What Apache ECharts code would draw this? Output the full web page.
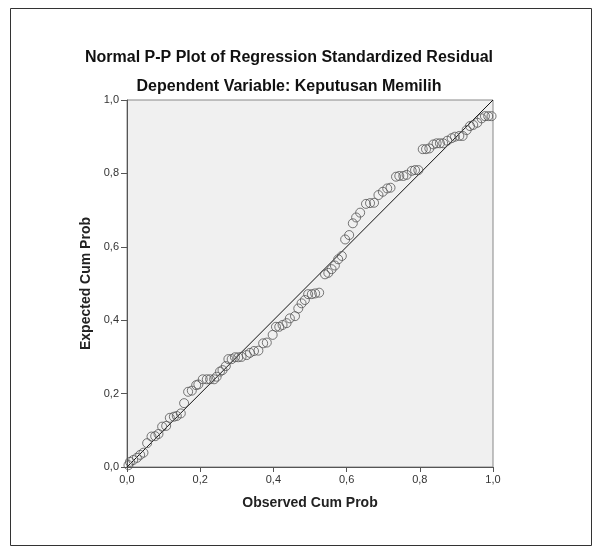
<!DOCTYPE html>
<html>
<head>
<meta charset="utf-8">
<title>Normal P-P Plot</title>
<script src="https://cdn.jsdelivr.net/npm/echarts@6/dist/echarts.min.js"></script>
<style>
    html, body { margin: 0; padding: 0; background: #fff; }
    #main { width: 599px; height: 551px; }
</style>
</head>
<body>
<div id="main"></div>
<script>
// observed / expected cumulative probabilities
var observed = [
    0.004, 0.008, 0.017, 0.027, 0.036, 0.045, 0.055, 0.067, 0.077, 0.086,
    0.096, 0.107, 0.117, 0.128, 0.136, 0.147, 0.156, 0.167, 0.177, 0.189,
    0.195, 0.207, 0.218, 0.227, 0.238, 0.245, 0.254, 0.261, 0.270, 0.277,
    0.286, 0.295, 0.304, 0.313, 0.327, 0.336, 0.347, 0.359, 0.372, 0.382,
    0.398, 0.407, 0.416, 0.425, 0.436, 0.445, 0.459, 0.468, 0.477, 0.486,
    0.495, 0.505, 0.514, 0.525, 0.541, 0.550, 0.559, 0.568, 0.577, 0.587,
    0.596, 0.607, 0.617, 0.626, 0.637, 0.653, 0.664, 0.675, 0.687, 0.699,
    0.711, 0.720, 0.735, 0.744, 0.755, 0.764, 0.778, 0.787, 0.796, 0.808,
    0.817, 0.826, 0.837, 0.846, 0.855, 0.864, 0.875, 0.887, 0.896, 0.908,
    0.917, 0.928, 0.937, 0.946, 0.957, 0.969, 0.978, 0.987, 0.996
];
var expected = [
    0.005, 0.014, 0.019, 0.025, 0.033, 0.039, 0.065, 0.083, 0.084, 0.090,
    0.110, 0.112, 0.134, 0.137, 0.139, 0.146, 0.174, 0.205, 0.208, 0.223,
    0.225, 0.239, 0.239, 0.239, 0.239, 0.246, 0.260, 0.264, 0.275, 0.294,
    0.294, 0.299, 0.299, 0.300, 0.305, 0.311, 0.316, 0.317, 0.337, 0.339,
    0.360, 0.382, 0.382, 0.387, 0.392, 0.405, 0.411, 0.432, 0.446, 0.455,
    0.471, 0.471, 0.473, 0.475, 0.525, 0.529, 0.539, 0.549, 0.566, 0.575,
    0.620, 0.632, 0.664, 0.680, 0.693, 0.717, 0.719, 0.720, 0.741, 0.750,
    0.759, 0.761, 0.791, 0.793, 0.793, 0.796, 0.807, 0.809, 0.809, 0.866,
    0.866, 0.868, 0.879, 0.882, 0.882, 0.882, 0.889, 0.896, 0.900, 0.902,
    0.902, 0.918, 0.929, 0.932, 0.938, 0.950, 0.956, 0.956, 0.956
];
var refLine = [[0, 0], [1, 1]];
var ticks = [0, 0.2, 0.4, 0.6, 0.8, 1.0];

var chartTitle = 'Normal P-P Plot of Regression Standardized Residual';
var chartSubtitle = 'Dependent Variable: Keputusan Memilih';

var FONT = 'Arial, "Liberation Sans", sans-serif';

function commaLabel(v) {
    return v.toFixed(1).replace('.', ',');
}

var points = observed.map(function (x, i) { return [x, expected[i]]; });

var axisCommon = {
    type: 'value',
    min: ticks[0],
    max: ticks[ticks.length - 1],
    interval: 0.2,
    nameLocation: 'middle',
    nameTextStyle: { fontFamily: FONT, fontSize: 14, fontWeight: 'bold', color: '#222' },
    axisLine: { show: true, lineStyle: { color: '#555', width: 1 } },
    axisTick: { show: true, length: 5, lineStyle: { color: '#555' } },
    axisLabel: { fontFamily: FONT, fontSize: 11, color: '#333', formatter: commaLabel },
    splitLine: { show: false }
};

var myChart = echarts.init(document.getElementById('main'));
var option = {
    animation: false,
    backgroundColor: '#fff',
    grid: {
        left: 127, top: 100, width: 366, height: 367,
        show: true,
        backgroundColor: '#f0f0f0',
        borderColor: '#888',
        borderWidth: 1
    },
    graphic: [
        {
            type: 'rect',
            shape: { x: 10.5, y: 8.5, width: 581, height: 537 },
            style: { fill: 'none', stroke: '#333', lineWidth: 1 },
            silent: true
        },
        {
            type: 'text', x: 289, y: 58,
            style: { text: chartTitle, font: 'bold 16px ' + FONT, fill: '#111', textAlign: 'center', textVerticalAlign: 'middle' }
        },
        {
            type: 'text', x: 289, y: 87,
            style: { text: chartSubtitle, font: 'bold 16px ' + FONT, fill: '#111', textAlign: 'center', textVerticalAlign: 'middle' }
        }
    ],
    xAxis: Object.assign({}, axisCommon, {
        name: 'Observed Cum Prob',
        nameGap: 29,
        axisLabel: Object.assign({}, axisCommon.axisLabel, { margin: 7 })
    }),
    yAxis: Object.assign({}, axisCommon, {
        name: 'Expected Cum Prob',
        nameGap: 32,
        nameRotate: 90,
        axisTick: Object.assign({}, axisCommon.axisTick, { length: 6 }),
        axisLabel: Object.assign({}, axisCommon.axisLabel, { margin: 8 })
    }),
    series: [
        {
            type: 'line',
            data: refLine,
            symbol: 'none',
            lineStyle: { color: '#111', width: 1 },
            z: 2
        },
        {
            type: 'scatter',
            data: points,
            symbol: 'circle',
            symbolSize: 9,
            itemStyle: { color: 'rgba(0,0,0,0)', borderColor: '#555', borderWidth: 1 },
            z: 3
        }
    ]
};
myChart.setOption(option);
</script>
</body>
</html>
